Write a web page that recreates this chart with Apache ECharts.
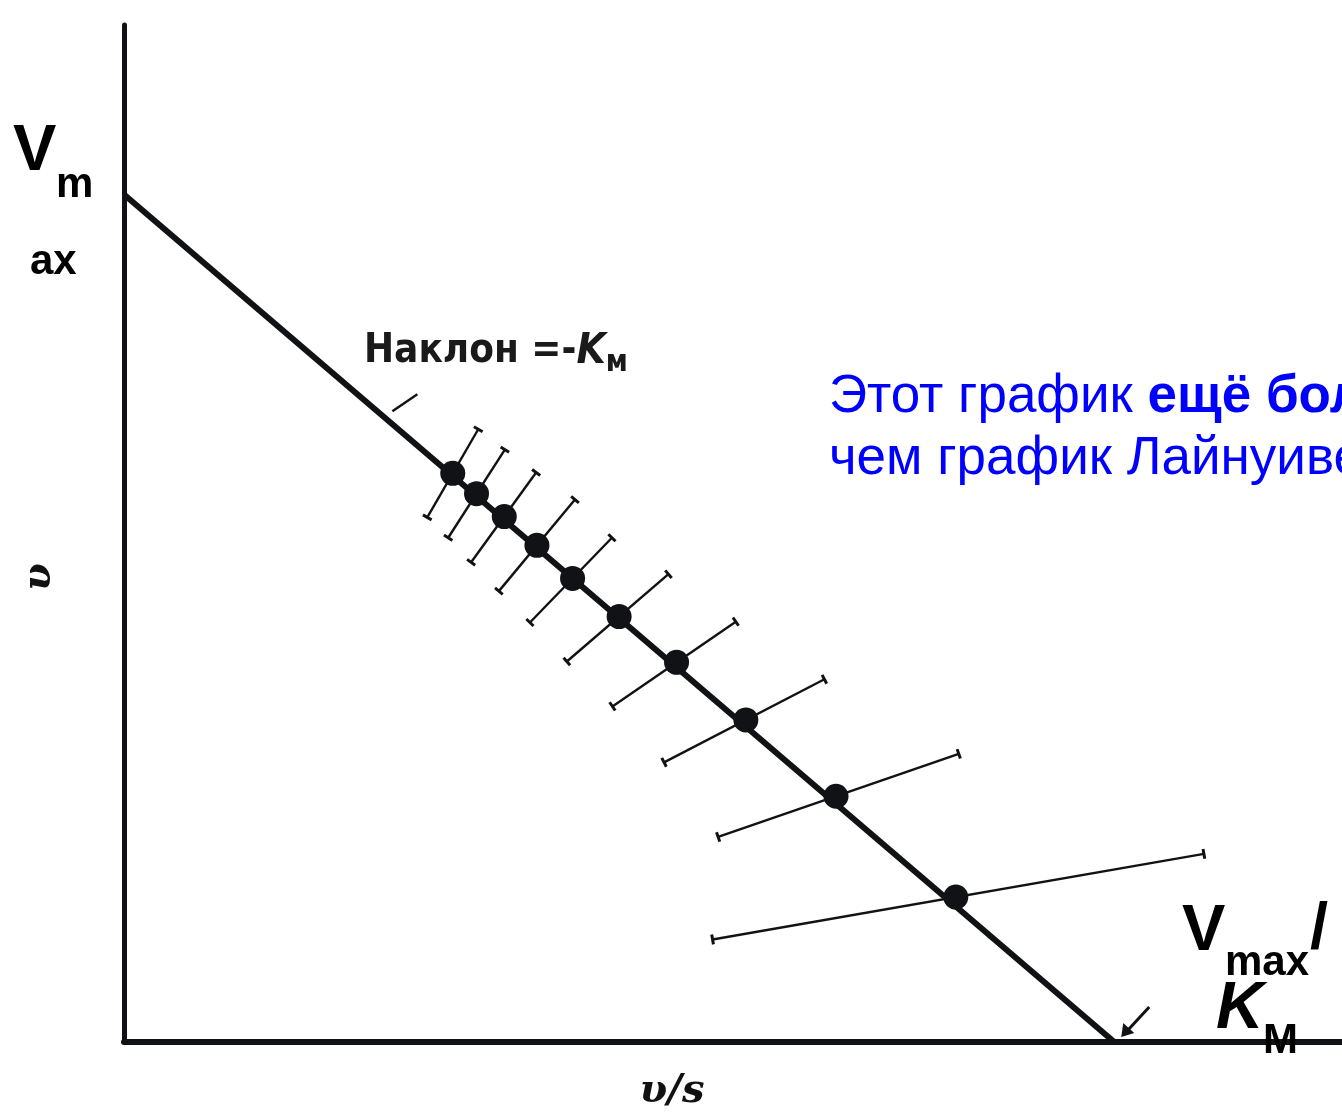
<!DOCTYPE html>
<html>
<head>
<meta charset="utf-8">
<style>
  html, body { margin: 0; padding: 0; background: #ffffff; }
  #chart { width: 1342px; height: 1119px; }
</style>
<script src="https://cdn.jsdelivr.net/npm/echarts@6/dist/echarts.min.js"></script>
</head>
<body>
<div id="chart"></div>
<script>
// Eadie–Hofstee plot: v against v/s, straight line with slope -Km
const vmax = 1.0;
const km = 1.0;

// measured points: v/s and v
const ratioVS  = [0.332, 0.356, 0.384, 0.417, 0.453, 0.500, 0.558, 0.628, 0.719, 0.840];
const velocity = [0.671, 0.647, 0.620, 0.586, 0.547, 0.502, 0.448, 0.380, 0.290, 0.171];

// uncertainty range of v for each point (the same s, so v/s scales with v)
const velocityLow  = [0.619, 0.595, 0.566, 0.532, 0.495, 0.449, 0.396, 0.330, 0.242, 0.121];
const velocityHigh = [0.723, 0.699, 0.672, 0.640, 0.595, 0.552, 0.496, 0.428, 0.340, 0.222];

const INK = '#111216';

const pointData = ratioVS.map((x, i) => [x, velocity[i]]);
const errorData = ratioVS.map((x, i) => {
  const k = x / velocity[i];
  return [velocityLow[i] * k, velocityLow[i], velocityHigh[i] * k, velocityHigh[i]];
});
const fitLine = [[0, vmax], [vmax / km, 0]];

const chart = echarts.init(document.getElementById('chart'), null, { renderer: 'canvas' });

const hiddenAxisParts = {
  axisTick: { show: false },
  axisLabel: { show: false },
  splitLine: { show: false }
};

chart.setOption({
  backgroundColor: '#ffffff',
  animation: false,
  grid: { left: 124, right: 0, top: 25, bottom: 77 },
  xAxis: Object.assign({
    type: 'value', min: 0, max: 1.23,
    axisLine: { show: true, onZero: false, lineStyle: { color: INK, width: 6 } }
  }, hiddenAxisParts),
  yAxis: Object.assign({
    type: 'value', min: 0, max: 1.2,
    axisLine: { show: true, onZero: false, lineStyle: { color: INK, width: 5 } }
  }, hiddenAxisParts),
  series: [
    {
      type: 'line',
      data: fitLine,
      symbol: 'none',
      lineStyle: { color: INK, width: 6 },
      z: 2
    },
    {
      type: 'custom',
      data: errorData,
      z: 3,
      renderItem: function (params, api) {
        const lo = api.coord([api.value(0), api.value(1)]);
        const hi = api.coord([api.value(2), api.value(3)]);
        const dx = hi[0] - lo[0], dy = hi[1] - lo[1];
        const len = Math.hypot(dx, dy);
        const nx = -dy / len * 5, ny = dx / len * 5;
        const st = { stroke: INK, lineWidth: 2.4 };
        const cap = { stroke: INK, lineWidth: 3 };
        return {
          type: 'group',
          children: [
            { type: 'line', shape: { x1: lo[0], y1: lo[1], x2: hi[0], y2: hi[1] }, style: st },
            { type: 'line', shape: { x1: lo[0] - nx, y1: lo[1] - ny, x2: lo[0] + nx, y2: lo[1] + ny }, style: cap },
            { type: 'line', shape: { x1: hi[0] - nx, y1: hi[1] - ny, x2: hi[0] + nx, y2: hi[1] + ny }, style: cap }
          ]
        };
      }
    },
    {
      type: 'scatter',
      data: pointData,
      symbol: 'circle',
      symbolSize: 25,
      itemStyle: { color: INK, opacity: 1 },
      z: 4
    }
  ]
});

// annotation marks placed from the axis scales
const tip = chart.convertToPixel({ gridIndex: 0 }, [vmax / km, 0]);
const onLine = chart.convertToPixel({ gridIndex: 0 }, [0.27, vmax - km * 0.27]);
const ax = tip[0] + 7, ay = tip[1] - 5;

const sans = '"Liberation Sans", Arial, sans-serif';
const serif = '"DejaVu Serif", "Liberation Serif", serif';
const cond = '"DejaVu Sans Condensed", "Liberation Sans Narrow", sans-serif';

chart.setOption({
  graphic: [
    // pointer from the slope note to the line
    { type: 'line', shape: { x1: onLine[0] + 1, y1: onLine[1] - 12, x2: onLine[0] + 26, y2: onLine[1] - 29 },
      style: { stroke: INK, lineWidth: 2.4 }, z: 10 },
    // arrow to the x intercept
    { type: 'line', shape: { x1: ax + 28, y1: ay - 30, x2: ax + 4, y2: ay - 4 },
      style: { stroke: INK, lineWidth: 3 }, z: 10 },
    { type: 'polygon', shape: { points: [[ax, ay], [ax + 2, ay - 14], [ax + 13, ay - 4]] },
      style: { fill: INK }, z: 10 },

    // Vmax on the v axis
    { type: 'text', z: 20, style: { x: 13, y: 152, text: 'V', font: 'bold 65px ' + sans, fill: '#000', verticalAlign: 'middle' } },
    { type: 'text', z: 20, style: { x: 56, y: 185, text: 'm', font: 'bold 42px ' + sans, fill: '#000', verticalAlign: 'middle' } },
    { type: 'text', z: 20, style: { x: 30, y: 262, text: 'ax', font: 'bold 42px ' + sans, fill: '#000', verticalAlign: 'middle' } },

    // Vmax/Km on the v/s axis
    { type: 'text', z: 20, style: { x: 1182, y: 932, text: 'V', font: 'bold 65px ' + sans, fill: '#000', verticalAlign: 'middle' } },
    { type: 'text', z: 20, style: { x: 1225, y: 963, text: 'max', font: 'bold 42px ' + sans, fill: '#000', verticalAlign: 'middle' } },
    { type: 'text', z: 20, style: { x: 1310, y: 930, text: '/', font: 'bold 65px ' + sans, fill: '#000', verticalAlign: 'middle' } },
    { type: 'text', z: 20, style: { x: 1216, y: 1010, text: 'K', font: 'italic bold 66px ' + sans, fill: '#000', verticalAlign: 'middle' } },
    { type: 'text', z: 20, style: { x: 1263, y: 1041, text: 'M', font: 'bold 42px ' + sans, fill: '#000', verticalAlign: 'middle' } },

    // axis names
    { type: 'text', z: 20, x: 40, y: 577, rotation: Math.PI / 2,
      style: { x: 0, y: 0, text: 'υ', font: 'italic bold 40px ' + serif, fill: '#111', align: 'center', verticalAlign: 'middle' } },
    { type: 'text', z: 20, style: { x: 672, y: 1092, text: 'υ/s', font: 'italic bold 40px ' + serif, fill: '#111', align: 'center', verticalAlign: 'middle' } },

    // slope note
    { type: 'text', z: 20, style: {
        x: 364, y: 352, verticalAlign: 'middle',
        text: '{a|Наклон =-}{k|K}{m|м}',
        rich: {
          a: { font: 'bold 40px ' + cond, fill: '#1a1a1a' },
          k: { font: 'italic bold 42px ' + cond, fill: '#1a1a1a' },
          m: { font: 'bold 30px ' + cond, fill: '#1a1a1a', padding: [22, 0, 0, 0] }
        }
    } },

    // blue remark
    { type: 'text', z: 20, style: {
        x: 829, y: 366, verticalAlign: 'top',
        text: '{a|Этот график }{b|ещё более}\n{a|чем график Лайнуивера}',
        rich: {
          a: { font: '53px ' + sans, fill: '#0000ff', lineHeight: 62 },
          b: { font: 'bold 53px ' + sans, fill: '#0000ff', lineHeight: 62 }
        }
    } }
  ]
});
</script>
</body>
</html>
